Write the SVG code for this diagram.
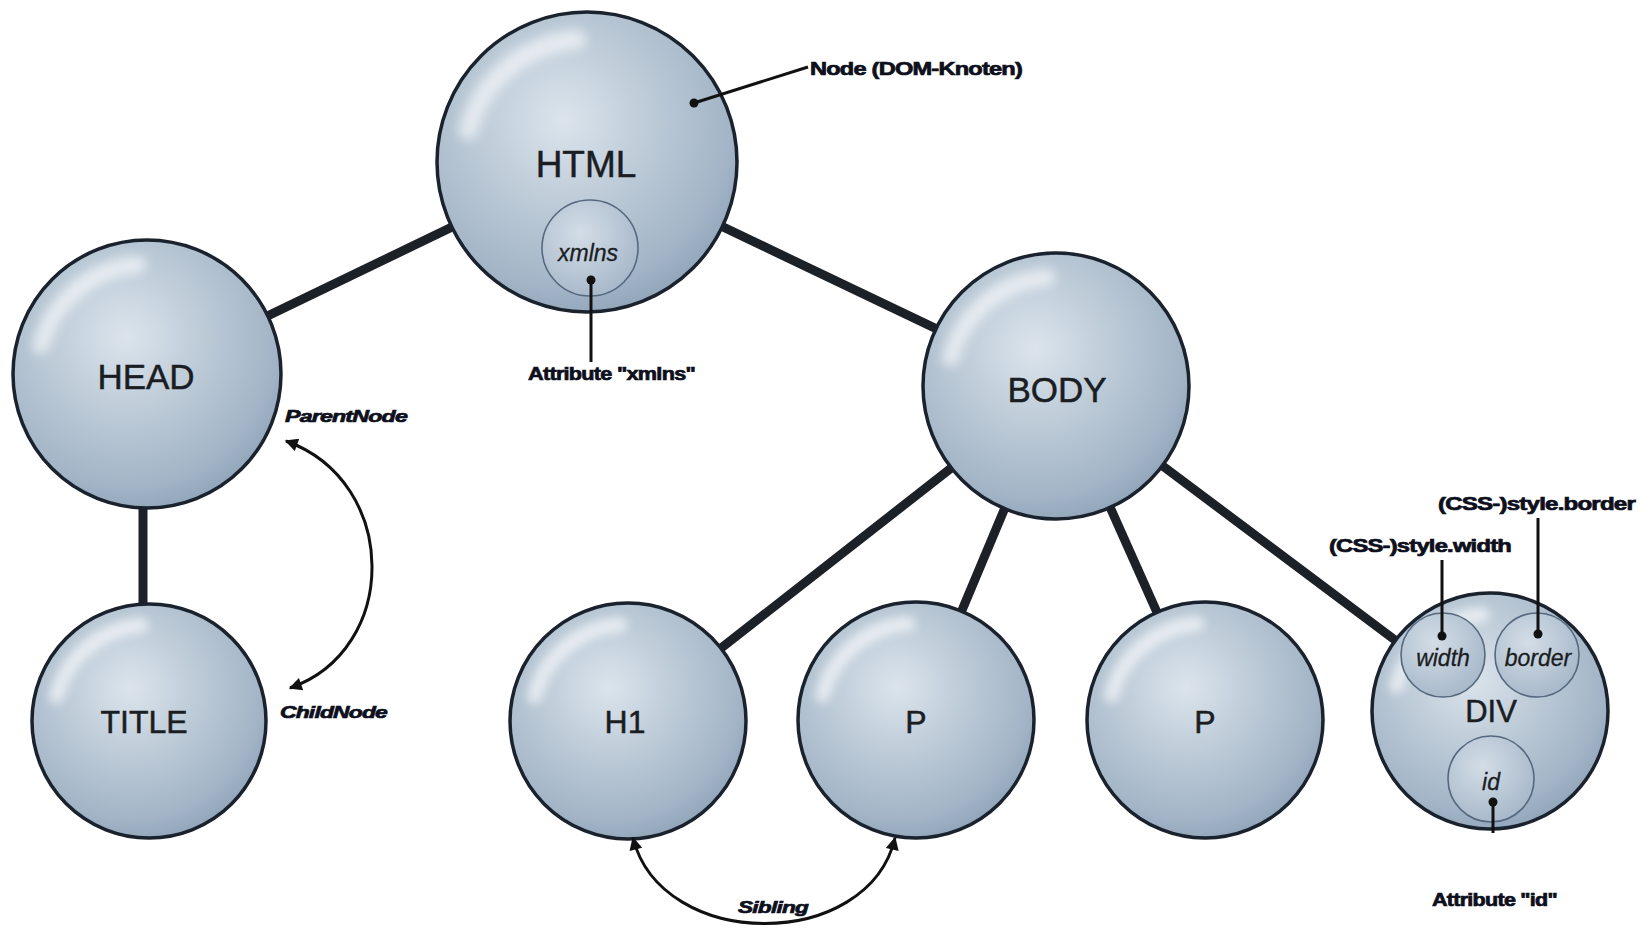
<svg xmlns="http://www.w3.org/2000/svg" xmlns:xlink="http://www.w3.org/1999/xlink" width="1641" height="932" viewBox="0 0 1641 932">
<style>
.edge{stroke:#1c2027;stroke-width:9;stroke-linecap:butt;fill:none}
.ptr{stroke:#111;stroke-width:3;fill:none}
.dot{fill:#111}
.lbl{font-family:"Liberation Sans",Arial,sans-serif;fill:#1a1d22;text-anchor:middle;stroke:#1a1d22;stroke-width:0.5}
.attr{font-family:"Liberation Sans",Arial,sans-serif;font-style:italic;fill:#1a1d22;text-anchor:middle;font-size:23px;stroke:#1a1d22;stroke-width:0.3}
.note{font-family:"Liberation Sans",Arial,sans-serif;font-weight:bold;fill:#0d0f1c;font-size:18px;letter-spacing:-0.6px;stroke:#0d0f1c;stroke-width:0.7}
.noteI{font-family:"Liberation Sans",Arial,sans-serif;font-weight:bold;font-style:italic;fill:#0d0f1c;font-size:17px;letter-spacing:-0.6px;stroke:#0d0f1c;stroke-width:0.7}
.arc{stroke:#111;stroke-width:3;fill:none;marker-start:url(#ah);marker-end:url(#ah)}
.inner{fill:url(#innerGrad);stroke:#55687e;stroke-width:1.6}
</style>
<defs>
<radialGradient id="ballGrad" cx="0.42" cy="0.36" r="0.66">
<stop offset="0" stop-color="#dbe4ec"/>
<stop offset="0.45" stop-color="#bccad7"/>
<stop offset="0.85" stop-color="#a2b4c6"/>
<stop offset="1" stop-color="#92a6bb"/>
</radialGradient>
<radialGradient id="innerGrad" cx="0.4" cy="0.35" r="0.7">
<stop offset="0" stop-color="#d3dde7"/>
<stop offset="1" stop-color="#a6b7c9"/>
</radialGradient>
<filter id="soft" x="-30%" y="-30%" width="160%" height="160%">
<feGaussianBlur stdDeviation="4"/>
</filter>
<g id="ball">
<circle r="100" fill="url(#ballGrad)"/>
<path d="M -79.2 -21.2 A 82 82 0 0 1 -7.1 -81.7" stroke="#ffffff" stroke-width="13" stroke-linecap="round" fill="none" opacity="0.6" filter="url(#soft)"/>
<circle r="100" fill="none" stroke="#1a222d" stroke-width="3.5" vector-effect="non-scaling-stroke"/>
</g>
<marker id="ah" viewBox="0 0 10 10" refX="9" refY="5" markerWidth="15" markerHeight="13" markerUnits="userSpaceOnUse" orient="auto-start-reverse">
<path d="M0 0 L10 5 L0 10 Z" fill="#111"/>
</marker>
</defs>
<rect width="1641" height="932" fill="#ffffff"/>

<g id="connectors">
<line class="edge" x1="587" y1="162" x2="147" y2="374"/>
<line class="edge" x1="587" y1="162" x2="1056" y2="386"/>
<line class="edge" x1="143" y1="480" x2="143" y2="630"/>
<line class="edge" x1="1056" y1="386" x2="628" y2="721"/>
<line class="edge" x1="1056" y1="386" x2="916" y2="720"/>
<line class="edge" x1="1056" y1="386" x2="1205" y2="720"/>
<line class="edge" x1="1056" y1="386" x2="1491" y2="712"/>
</g>

<g id="node-html">
<use xlink:href="#ball" href="#ball" transform="translate(587,162) scale(1.5)"/>
<text class="lbl" x="586" y="177" font-size="37">HTML</text>
<circle class="inner" cx="590" cy="248" r="48"/>
<text class="attr" x="588" y="261" font-size="25">xmlns</text>
</g>
<g id="node-head">
<use xlink:href="#ball" href="#ball" transform="translate(147,374) scale(1.34)"/>
<text class="lbl" x="146" y="389" font-size="35">HEAD</text>
</g>
<g id="node-title">
<use xlink:href="#ball" href="#ball" transform="translate(149,721) scale(1.17)"/>
<text class="lbl" x="144" y="733" font-size="32">TITLE</text>
</g>
<g id="node-body">
<use xlink:href="#ball" href="#ball" transform="translate(1056,386) scale(1.33)"/>
<text class="lbl" x="1057" y="402" font-size="35">BODY</text>
</g>
<g id="node-h1">
<use xlink:href="#ball" href="#ball" transform="translate(628,721) scale(1.18)"/>
<text class="lbl" x="625" y="733" font-size="32">H1</text>
</g>
<g id="node-p1">
<use xlink:href="#ball" href="#ball" transform="translate(916,720) scale(1.18)"/>
<text class="lbl" x="916" y="733" font-size="32">P</text>
</g>
<g id="node-p2">
<use xlink:href="#ball" href="#ball" transform="translate(1205,720) scale(1.18)"/>
<text class="lbl" x="1205" y="733" font-size="32">P</text>
</g>
<g id="node-div">
<use xlink:href="#ball" href="#ball" transform="translate(1490,711) scale(1.18)"/>
<circle class="inner" cx="1443" cy="655" r="42"/>
<circle class="inner" cx="1537" cy="655" r="42"/>
<circle class="inner" cx="1491" cy="779" r="43"/>
<text class="lbl" x="1491" y="722" font-size="31">DIV</text>
<text class="attr" x="1443" y="666">width</text>
<text class="attr" x="1538" y="666">border</text>
<text class="attr" x="1491" y="790">id</text>
</g>

<g id="annotations">
<line class="ptr" x1="694" y1="103" x2="808" y2="67"/>
<circle class="dot" cx="694" cy="103" r="4.5"/>
<text class="note" x="810" y="75" textLength="212" lengthAdjust="spacingAndGlyphs">Node (DOM-Knoten)</text>

<line class="ptr" x1="591" y1="280" x2="591" y2="362"/>
<circle class="dot" cx="591" cy="280" r="4.5"/>
<text class="note" x="528" y="380" textLength="167" lengthAdjust="spacingAndGlyphs">Attribute "xmlns"</text>

<line class="ptr" x1="1442" y1="636" x2="1442" y2="560"/>
<circle class="dot" cx="1442" cy="636" r="4.5"/>
<text class="note" x="1329" y="552" textLength="182" lengthAdjust="spacingAndGlyphs">(CSS-)style.width</text>

<line class="ptr" x1="1538" y1="634" x2="1538" y2="518"/>
<circle class="dot" cx="1538" cy="634" r="4.5"/>
<text class="note" x="1438" y="510" textLength="197" lengthAdjust="spacingAndGlyphs">(CSS-)style.border</text>

<line class="ptr" x1="1493" y1="802" x2="1493" y2="833"/>
<circle class="dot" cx="1493" cy="802" r="4.5"/>
<text class="note" x="1432" y="906" textLength="125" lengthAdjust="spacingAndGlyphs">Attribute "id"</text>

<path class="arc" d="M 286 441 C 400 482, 400 650, 290 688"/>
<text class="noteI" x="285" y="422" textLength="122" lengthAdjust="spacingAndGlyphs">ParentNode</text>
<text class="noteI" x="280" y="718" textLength="107" lengthAdjust="spacingAndGlyphs">ChildNode</text>

<path class="arc" d="M 633 838 C 662 952, 868 952, 895 838"/>
<text class="noteI" x="738" y="913" textLength="70" lengthAdjust="spacingAndGlyphs">Sibling</text>
</g>
</svg>
